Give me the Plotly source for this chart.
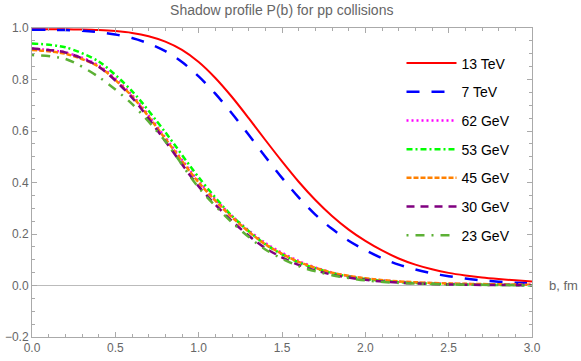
import plotly.graph_objects as go

# perfis de sombra P(b)
b_alto = [0.0, 0.1, 0.2, 0.3, 0.4, 0.5, 0.6, 0.7, 0.8, 0.9, 1.0, 1.1, 1.2, 1.3, 1.4,
          1.5, 1.6, 1.7, 1.8, 1.9, 2.0, 2.1, 2.2, 2.3, 2.4, 2.5, 2.6, 2.7, 2.8, 2.9, 3.0]
p_13tev = [0.995, 0.995, 0.995, 0.994, 0.992, 0.988, 0.981, 0.968, 0.947, 0.915, 0.868,
           0.806, 0.732, 0.650, 0.565, 0.482, 0.403, 0.332, 0.270, 0.217, 0.173, 0.136,
           0.105, 0.081, 0.063, 0.049, 0.039, 0.031, 0.025, 0.020, 0.016]
p_7tev = [0.993, 0.993, 0.992, 0.989, 0.984, 0.975, 0.961, 0.940, 0.910, 0.868, 0.812,
          0.745, 0.668, 0.585, 0.500, 0.418, 0.342, 0.275, 0.220, 0.174, 0.137, 0.106,
          0.081, 0.062, 0.047, 0.036, 0.027, 0.020, 0.015, 0.011, 0.008]

b_baixo = [0.0, 0.2, 0.4, 0.6, 0.8, 1.0, 1.2, 1.4, 1.6, 1.8, 2.0, 2.2, 2.5, 3.0]
p_62gev = [0.92, 0.905, 0.855, 0.74, 0.575, 0.405, 0.27, 0.165, 0.095, 0.05, 0.027,
           0.015, 0.007, 0.003]
p_53gev = [0.94, 0.925, 0.87, 0.755, 0.595, 0.42, 0.27, 0.16, 0.09, 0.048, 0.025,
           0.013, 0.005, 0.001]
p_45gev = [0.915, 0.90, 0.85, 0.735, 0.57, 0.40, 0.265, 0.16, 0.092, 0.05, 0.028,
           0.016, 0.008, 0.003]
p_30gev = [0.92, 0.905, 0.85, 0.73, 0.56, 0.385, 0.25, 0.145, 0.08, 0.042, 0.022,
           0.011, 0.004, 0.001]
p_23gev = [0.895, 0.88, 0.81, 0.705, 0.56, 0.38, 0.245, 0.14, 0.075, 0.04, 0.02,
           0.01, 0.004, 0.001]

nomes = ["13 TeV", "7 TeV", "62 GeV", "53 GeV", "45 GeV", "30 GeV", "23 GeV"]
eixos_b = [b_alto, b_alto, b_baixo, b_baixo, b_baixo, b_baixo, b_baixo]
perfis = [p_13tev, p_7tev, p_62gev, p_53gev, p_45gev, p_30gev, p_23gev]

# estilos (cor, tracejado, largura)
cores = ["#ff0000", "#0000ff", "#ff00ff", "#00ff00", "#ff8000", "#800080", "#5cb035"]
tracos = ["solid", "13px,12px", "2px,3px", "6px,3px,2px,3px", "5px,2px",
          "8px,6px", "2px,7px,9px,7px"]
larguras = [2, 2.5, 2.5, 2.5, 2.5, 2.5, 2.5]

fig = go.Figure()

for i in range(len(nomes)):
    fig.add_trace(go.Scatter(
        x=eixos_b[i], y=perfis[i], mode="lines", name=nomes[i],
        line=dict(color=cores[i], dash=tracos[i], width=larguras[i], shape="spline",
                  smoothing=0.8),
        legendgroup=nomes[i],
    ))

eixo_cinza = "#aaaaaa"
fig.update_layout(
    width=581, height=361,
    margin=dict(l=32, r=49, t=28, b=24, autoexpand=False),
    plot_bgcolor="white", paper_bgcolor="white",
    font=dict(family="Liberation Sans, Arial, sans-serif", size=12, color="#666666"),
    title=dict(text="Shadow profile P(b) for pp collisions", x=0.485, xanchor="center",
               y=0.985, yanchor="top", font=dict(size=14, color="#666666")),
    xaxis=dict(range=[0, 3], tick0=0, dtick=0.5, tickformat=".1f", automargin=False,
               showgrid=False, zeroline=False,
               showline=True, linecolor=eixo_cinza, linewidth=1, mirror="ticks",
               ticks="inside", ticklen=5, tickcolor=eixo_cinza,
               minor=dict(dtick=0.1, ticks="inside", ticklen=3, tickcolor=eixo_cinza)),
    yaxis=dict(range=[-0.2, 1.0], tick0=0, dtick=0.2, tickformat=".1f", automargin=False,
               showgrid=False, zeroline=True, zerolinecolor="#bbbbbb", zerolinewidth=1,
               showline=True, linecolor=eixo_cinza, linewidth=1, mirror="ticks",
               ticks="inside", ticklen=5, tickcolor=eixo_cinza,
               minor=dict(dtick=0.05, ticks="inside", ticklen=3, tickcolor=eixo_cinza)),
    legend=dict(x=0.739, y=0.937, xanchor="left", yanchor="top",
                bgcolor="rgba(0,0,0,0)", font=dict(size=14, color="black"),
                tracegroupgap=7.5, itemwidth=50),
    showlegend=True,
    annotations=[dict(x=1.03, y=0, xref="paper", yref="y", text="b, fm",
                      showarrow=False, xanchor="left", yanchor="middle",
                      font=dict(size=13, color="#666666"))],
)

# tira a margem padrao do body para o grafico ficar no canto da janela
fig.write_html("out.html", config={"displayModeBar": False},
               post_script="document.body.style.margin='0';")
